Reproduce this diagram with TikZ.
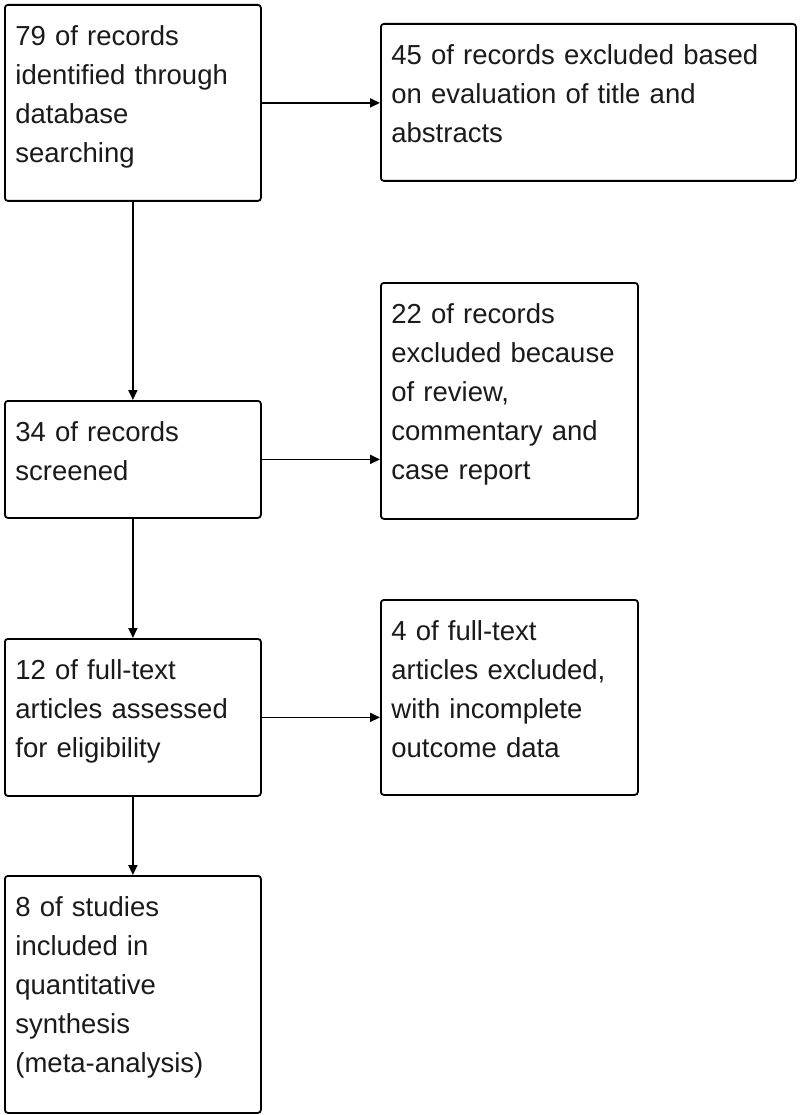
\documentclass[tikz,border=0pt]{standalone}
\usepackage{fontspec}
\setmainfont{Liberation Sans}
\usetikzlibrary{arrows.meta}
\definecolor{txt}{HTML}{1A1A1A}
\tikzset{
  flowbox/.style={draw=black, line width=1.8pt, rounded corners=3pt, anchor=north west,
    align=left, inner xsep=10.5pt, inner ysep=0pt, text height=40.5pt, text=txt,
    font=\fontsize{27.5}{39}\selectfont},
  flowarrow/.style={draw=black, line width=1.8pt, -{Triangle[length=10pt,width=9pt]}}
}
\begin{document}
\begin{tikzpicture}[x=1pt,y=-1pt]
\useasboundingbox (0,0) rectangle (800,1115);
\node[flowbox, text width=235pt, text depth=155.5pt] (b1) at (4,4)
  {79 of records\\identified through\\database\\searching};
\node[flowbox, text width=394pt, text depth=116.5pt] (b2) at (380,23)
  {45 of records excluded based\\on evaluation of title and\\abstracts};
\node[flowbox, text width=236pt, text depth=195.5pt] (b3) at (380,282)
  {22 of records\\excluded because\\of review,\\commentary and\\case report};
\node[flowbox, text width=235pt, text depth=76.5pt] (b4) at (4,400)
  {34 of records\\screened};
\node[flowbox, text width=236pt, text depth=154.5pt] (b5) at (380,599)
  {4 of full-text\\articles excluded,\\with incomplete\\outcome data};
\node[flowbox, text width=235pt, text depth=116.5pt] (b6) at (4,638)
  {12 of full-text\\articles assessed\\for eligibility};
\node[flowbox, text width=235pt, text depth=196.5pt] (b7) at (4,875)
  {8 of studies\\included in\\quantitative\\synthesis\\(meta-analysis)};
\draw[flowarrow] (b1.east) -- (b1.east -| b2.west);
\draw[flowarrow] (b4.east) -- (b4.east -| b3.west);
\draw[flowarrow] (b6.east) -- (b6.east -| b5.west);
\draw[flowarrow] (b1.south) -- (b4.north);
\draw[flowarrow] (b4.south) -- (b6.north);
\draw[flowarrow] (b6.south) -- (b7.north);
\end{tikzpicture}
\end{document}
